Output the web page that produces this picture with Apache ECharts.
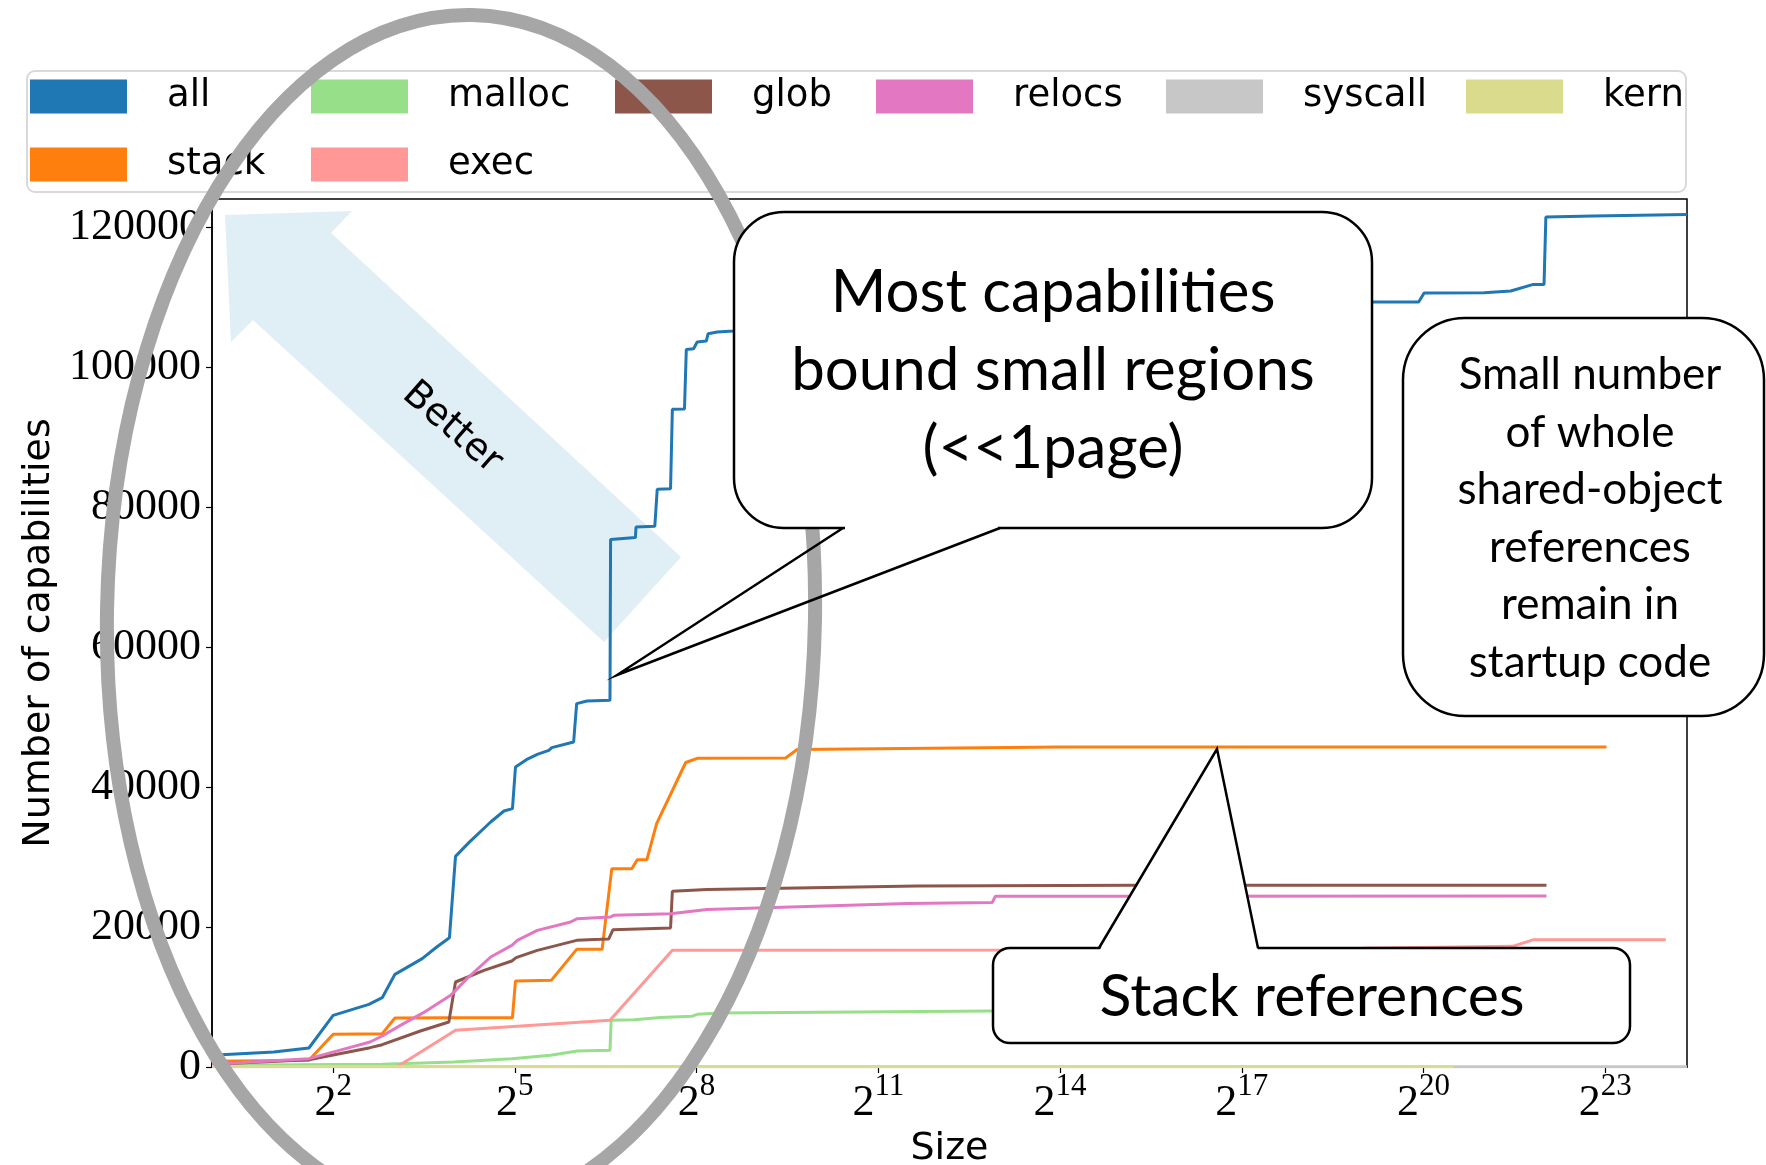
<!DOCTYPE html>
<html>
<head>
<meta charset="utf-8">
<title>Capabilities by bounded size</title>
<script src="https://cdn.jsdelivr.net/npm/echarts@6/dist/echarts.min.js"></script>
<style>
  html, body { margin: 0; padding: 0; background: #fff; }
  #chart { width: 1766px; height: 1165px; }
</style>
</head>
<body>
<div id="chart"></div>
<script>
// x = log2(size in bytes), y = cumulative number of capabilities
const allX = [0, 1.02, 1.6, 2.0, 2.59, 2.81, 3.02, 3.47, 3.71, 3.92, 4.02, 4.24, 4.6, 4.82, 4.96, 5.01, 5.19, 5.37, 5.56, 5.61, 5.97, 6.02, 6.19, 6.57, 6.58, 6.99, 7.0, 7.31, 7.35, 7.57, 7.6, 7.8, 7.83, 7.95, 8.01, 8.16, 8.19, 8.34, 8.61, 10.5, 13.0, 16.0, 19.16, 19.92, 20.01, 21.0, 21.44, 21.8, 21.99, 22.02, 22.8, 24.35]
const allY = [1667, 2143, 2714, 7381, 8952, 9905, 13238, 15476, 17143, 18476, 30095, 32048, 35000, 36571, 36905, 42857, 43905, 44667, 45238, 45619, 46429, 51905, 52286, 52381, 75343, 75629, 77143, 77238, 82529, 82600, 93957, 94000, 102486, 102600, 103571, 103700, 104762, 105000, 105143, 106500, 107800, 108600, 109286, 109286, 110571, 110600, 110857, 111771, 111800, 121429, 121571, 121800]

const stackX = [0, 1.6, 2.0, 2.81, 3.02, 3.91, 4.96, 5.01, 5.6, 6.02, 6.44, 6.6, 6.93, 7.02, 7.18, 7.34, 7.82, 8.01, 9.47, 9.66, 10.98, 14.01, 23.02]
const stackY = [810, 952, 4667, 4762, 7000, 7048, 7048, 12286, 12381, 16810, 16810, 28333, 28333, 29619, 29619, 34762, 43500, 44100, 44150, 45350, 45450, 45700, 45700]

const mallocX = [0, 2.81, 3.99, 4.95, 5.59, 6.03, 6.57, 6.59, 6.97, 7.4, 7.93, 8.01, 8.39, 12.85, 22.03]
const mallocY = [238, 381, 714, 1190, 1667, 2286, 2381, 6667, 6762, 7057, 7260, 7529, 7700, 8000, 8000]

const execX = [3.05, 4.02, 6.57, 7.6, 14.0, 19.0, 21.47, 21.82, 24.0]
const execY = [0, 5238, 6667, 16667, 16700, 16950, 17238, 18190, 18190]

const globX = [0, 1.6, 2.61, 2.81, 3.44, 3.91, 4.02, 4.49, 4.95, 5.02, 5.37, 6.02, 6.41, 6.55, 6.62, 7.57, 7.6, 8.17, 11.64, 15.27, 22.03]
const globY = [381, 1048, 2762, 3190, 5143, 6429, 12143, 13810, 15143, 15619, 16667, 18095, 18238, 18300, 19619, 19857, 25100, 25343, 25857, 25957, 25957]

const relocsX = [0, 1.6, 2.1, 2.61, 2.81, 3.11, 3.49, 3.94, 4.21, 4.6, 4.95, 5.04, 5.37, 5.92, 6.03, 6.58, 6.63, 7.57, 8.17, 11.48, 12.88, 12.93, 15.11, 22.03]
const relocsY = [381, 1190, 2381, 3571, 4429, 5952, 7762, 10238, 12619, 15714, 17381, 18095, 19524, 20714, 21190, 21429, 21667, 21905, 22486, 23343, 23486, 24386, 24400, 24429]

const syscallX = [0, 24.35]
const syscallY = [30, 30]

const kernX = [0, 20.5]
const kernY = [60, 60]

const seriesNames = ['all', 'stack', 'malloc', 'exec', 'glob', 'relocs', 'syscall', 'kern']
const seriesColors = ['#1f77b4', '#ff7f0e', '#98df8a', '#ff9896', '#8c564b', '#e377c2', '#c7c7c7', '#dbdb8d']
const seriesXs = [allX, stackX, mallocX, execX, globX, relocsX, syscallX, kernX]
const seriesYs = [allY, stackY, mallocY, execY, globY, relocsY, syscallY, kernY]

const xTickExps = [2, 5, 8, 11, 14, 17, 20, 23]
const yTicks = [0, 20000, 40000, 60000, 80000, 100000, 120000]

const chart = echarts.init(document.getElementById('chart'))

const series = seriesNames.map((name, i) => ({
  name: name,
  type: 'line',
  showSymbol: false,
  symbol: 'none',
  color: seriesColors[i],
  itemStyle: { color: seriesColors[i] },
  lineStyle: { color: seriesColors[i], width: 3 },
  data: seriesXs[i].map((x, j) => [x, seriesYs[i][j]])
}))

// matplotlib-style legend: two rows, fixed column starts
const legendSlots = [
  { name: 'all', left: 30, top: 76 },
  { name: 'malloc', left: 311, top: 76 },
  { name: 'glob', left: 615, top: 76 },
  { name: 'relocs', left: 876, top: 76 },
  { name: 'syscall', left: 1166, top: 76 },
  { name: 'kern', left: 1466, top: 76 },
  { name: 'stack', left: 30, top: 144 },
  { name: 'exec', left: 311, top: 144 }
]
const legends = legendSlots.map(s => ({
  data: [s.name],
  left: s.left,
  top: s.top,
  padding: 0,
  icon: 'rect',
  itemWidth: 97,
  itemHeight: 34,
  textStyle: {
    fontFamily: 'DejaVu Sans',
    fontSize: 37,
    color: '#000',
    lineHeight: 34,
    padding: [7, 0, 0, 35]
  }
}))

const serif = 'Liberation Serif'
const calloutFont = 'Lato'
const box = { fill: '#fff', stroke: '#000', lineWidth: 2.5 }

const option = {
  animation: false,
  backgroundColor: '#fff',
  legend: legends,
  grid: {
    left: 212,
    right: 79,
    top: 199,
    bottom: 98,
    outerBoundsMode: 'none',
    show: true,
    borderColor: '#000',
    borderWidth: 1.5
  },
  xAxis: {
    type: 'value',
    min: 0,
    max: 24.35,
    interval: 1,
    name: 'Size',
    nameLocation: 'middle',
    nameGap: 58,
    nameTextStyle: { fontFamily: 'DejaVu Sans', fontSize: 38, color: '#000' },
    axisLine: { show: true, lineStyle: { color: '#000', width: 1.5 } },
    axisTick: { show: true, customValues: xTickExps, length: 6, lineStyle: { color: '#000', width: 1.2 } },
    splitLine: { show: false },
    axisLabel: {
      customValues: xTickExps,
      margin: 4,
      color: '#000',
      formatter: v => '{b|2}{s|' + v + '}',
      rich: {
        b: { fontFamily: serif, fontSize: 44, lineHeight: 54, verticalAlign: 'bottom', color: '#000' },
        s: { fontFamily: serif, fontSize: 31, lineHeight: 24, verticalAlign: 'top', color: '#000' }
      }
    }
  },
  yAxis: {
    type: 'value',
    min: 0,
    max: 124000,
    interval: 20000,
    name: 'Number of capabilities',
    nameLocation: 'middle',
    nameGap: 142,
    nameTextStyle: { fontFamily: 'DejaVu Sans', fontSize: 38, color: '#000' },
    axisLine: { show: true, lineStyle: { color: '#000', width: 1.5 } },
    axisTick: { show: true, customValues: yTicks, length: 6, lineStyle: { color: '#000', width: 1.2 } },
    splitLine: { show: false },
    axisLabel: {
      customValues: yTicks,
      margin: 11,
      fontFamily: serif,
      fontSize: 44,
      color: '#000',
      formatter: v => String(v)
    }
  },
  series: series,
  graphic: [
    // legend frame
    {
      type: 'rect', z: 1, silent: true,
      shape: { x: 27, y: 71, width: 1659, height: 121, r: 8 },
      style: { fill: '#fff', stroke: '#d9d9d9', lineWidth: 2 }
    },
    // "Better" arrow
    {
      type: 'polygon', z: 1, silent: true,
      shape: { points: [[225, 215], [352, 211], [331, 233], [681, 557], [604, 642], [253, 320], [231, 342]] },
      style: { fill: '#e0eff5' }
    },
    {
      type: 'text', z: 1, silent: true,
      x: 452, y: 428, rotation: -0.72,
      style: { text: 'Better', fontFamily: 'DejaVu Sans', fontSize: 38, fill: '#000', align: 'center', verticalAlign: 'middle' }
    },
    // grey ellipse
    {
      type: 'ellipse', z: 10, silent: true,
      x: 461, y: 615, rotation: -0.018,
      shape: { cx: 0, cy: 0, rx: 354, ry: 600 },
      style: { fill: null, stroke: '#a6a6a6', lineWidth: 14 }
    },
    // callout: most capabilities (pointer left open)
    {
      type: 'rect', z: 20, silent: true,
      shape: { x: 734, y: 212, width: 638, height: 316, r: 50 },
      style: box
    },
    {
      type: 'rect', z: 21, silent: true,
      shape: { x: 845, y: 524, width: 153, height: 8 },
      style: { fill: '#fff' }
    },
    {
      type: 'polyline', z: 22, silent: true,
      shape: { points: [[843, 528], [617, 675], [1000, 528]] },
      style: { fill: null, stroke: '#000', lineWidth: 2.5 }
    },
    {
      type: 'text', z: 22, silent: true,
      x: 1053, y: 371,
      style: {
        text: 'Most capabilities\nbound small regions\n(<<1page)',
        fontFamily: calloutFont, fontSize: 60, lineHeight: 78,
        fill: '#000', align: 'center', verticalAlign: 'middle'
      }
    },
    // callout: shared-object references
    {
      type: 'rect', z: 20, silent: true,
      shape: { x: 1403, y: 318, width: 361, height: 398, r: 62 },
      style: box
    },
    {
      type: 'text', z: 22, silent: true,
      x: 1590, y: 519,
      style: {
        text: 'Small number\nof whole\nshared-object\nreferences\nremain in\nstartup code',
        fontFamily: calloutFont, fontSize: 44, lineHeight: 57.5,
        fill: '#000', align: 'center', verticalAlign: 'middle'
      }
    },
    // callout: stack references (filled pointer)
    {
      type: 'rect', z: 20, silent: true,
      shape: { x: 993, y: 948, width: 637, height: 95, r: 17 },
      style: box
    },
    {
      type: 'polygon', z: 21, silent: true,
      shape: { points: [[1099, 951], [1217, 749], [1258, 951]] },
      style: { fill: '#fff' }
    },
    {
      type: 'polyline', z: 22, silent: true,
      shape: { points: [[1099, 948], [1217, 749], [1258, 948]] },
      style: { fill: null, stroke: '#000', lineWidth: 2.5 }
    },
    {
      type: 'text', z: 22, silent: true,
      x: 1312, y: 997,
      style: {
        text: 'Stack references',
        fontFamily: calloutFont, fontSize: 59,
        fill: '#000', align: 'center', verticalAlign: 'middle'
      }
    }
  ]
}

chart.setOption(option)
</script>
</body>
</html>
